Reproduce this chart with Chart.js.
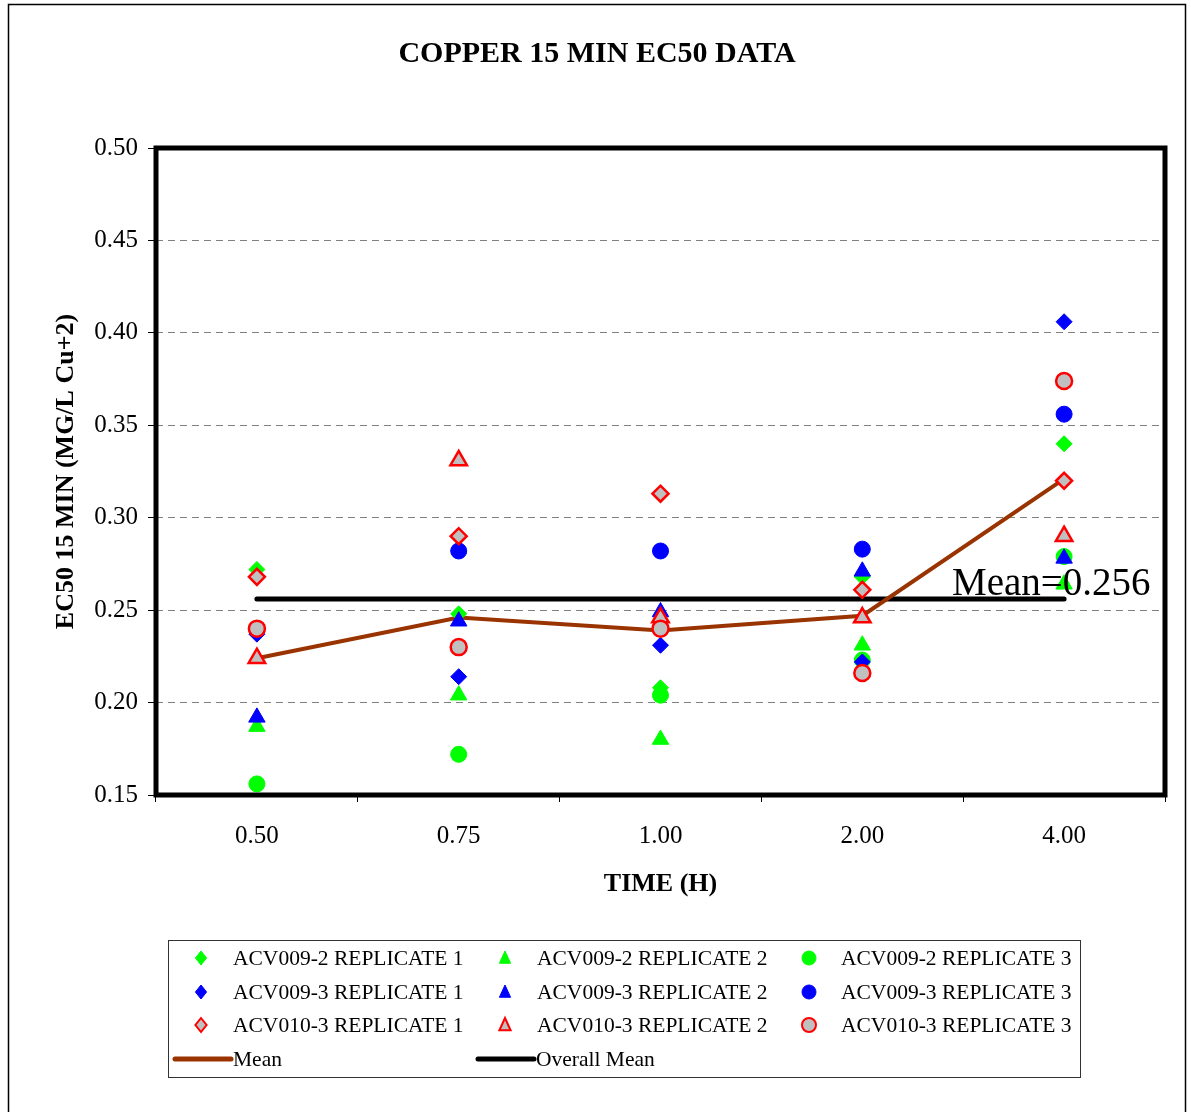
<!DOCTYPE html>
<html>
<head>
<meta charset="utf-8">
<title>Copper 15 min EC50 data</title>
<script src="https://cdn.jsdelivr.net/npm/chart.js@4/dist/chart.umd.min.js"></script>
<style>
  html, body { margin: 0; padding: 0; background: #fff; }
  #wrap { width: 1191px; height: 1112px; }
</style>
</head>
<body>
<div id="wrap"><canvas id="ec50" width="1191" height="1112"></canvas></div>
<script>
// exposure time categories (h)
const times = ['0.50', '0.75', '1.00', '2.00', '4.00'];
const yTicks = [0.15, 0.20, 0.25, 0.30, 0.35, 0.40, 0.45, 0.50];

// EC50 values, mg/L Cu+2
const acv0092Rep1 = [0.272, 0.248, 0.208, 0.268, 0.340];
const acv0092Rep2 = [0.187, 0.204, 0.180, 0.231, 0.264];
const acv0092Rep3 = [0.156, 0.172, 0.204, 0.223, 0.279];
const acv0093Rep1 = [0.237, 0.214, 0.231, 0.222, 0.406];
const acv0093Rep2 = [0.192, 0.244, 0.249, 0.271, 0.278];
const acv0093Rep3 = [0.240, 0.282, 0.282, 0.283, 0.356];
const acv0103Rep1 = [0.268, 0.290, 0.313, 0.261, 0.320];
const acv0103Rep2 = [0.224, 0.331, 0.246, 0.246, 0.290];
const acv0103Rep3 = [0.240, 0.230, 0.240, 0.216, 0.374];
const meanVals = [0.224, 0.246, 0.239, 0.247, 0.321];
const overallMean = [0.256, 0.256, 0.256, 0.256, 0.256];
const overallMeanLabel = 'Mean=0.256';

const FONT = "'Liberation Serif', 'Times New Roman', serif";
const GREEN = '#00ff00', BLUE = '#0000ff', RED = '#ff0000', GREY = '#c0c0c0';
const BROWN = '#993300';

function markerSet(label, data, color, style, hollow, i) {
  return {
    label: label,
    data: data,
    showLine: false,
    pointStyle: style,
    pointRadius: style === 'triangle' ? 9.5 : 8,
    pointBackgroundColor: hollow ? GREY : color,
    pointBorderColor: hollow ? RED : color,
    pointBorderWidth: hollow ? 2.5 : 1,
    borderColor: color,
    backgroundColor: hollow ? GREY : color,
    order: 20 - i
  };
}

const series = [
  ['ACV009-2 REPLICATE 1', acv0092Rep1, GREEN, 'rectRot', false],
  ['ACV009-2 REPLICATE 2', acv0092Rep2, GREEN, 'triangle', false],
  ['ACV009-2 REPLICATE 3', acv0092Rep3, GREEN, 'circle', false],
  ['ACV009-3 REPLICATE 1', acv0093Rep1, BLUE, 'rectRot', false],
  ['ACV009-3 REPLICATE 2', acv0093Rep2, BLUE, 'triangle', false],
  ['ACV009-3 REPLICATE 3', acv0093Rep3, BLUE, 'circle', false],
  ['ACV010-3 REPLICATE 1', acv0103Rep1, RED, 'rectRot', true],
  ['ACV010-3 REPLICATE 2', acv0103Rep2, RED, 'triangle', true],
  ['ACV010-3 REPLICATE 3', acv0103Rep3, RED, 'circle', true]
];

const datasets = series.map((s, i) => markerSet(s[0], s[1], s[2], s[3], s[4], i));
datasets.push({
  label: 'Mean', data: meanVals, borderColor: BROWN, borderWidth: 4,
  pointRadius: 0, borderCapStyle: 'round', order: 100
});
datasets.push({
  label: 'Overall Mean', data: overallMean, borderColor: '#000', borderWidth: 5,
  pointRadius: 0, borderCapStyle: 'round', order: 101
});

// small marker painter for the legend
function drawMarker(ctx, style, x, y, r, fill, stroke, lw) {
  ctx.save();
  ctx.beginPath();
  if (style === 'circle') {
    ctx.arc(x, y, r, 0, Math.PI * 2);
  } else if (style === 'rectRot') {
    ctx.moveTo(x, y - r); ctx.lineTo(x + r * 0.8, y); ctx.lineTo(x, y + r); ctx.lineTo(x - r * 0.8, y);
  } else {
    ctx.moveTo(x, y - r); ctx.lineTo(x + r * 0.8, y + r * 0.75); ctx.lineTo(x - r * 0.8, y + r * 0.75);
  }
  ctx.closePath();
  ctx.fillStyle = fill; ctx.fill();
  ctx.lineWidth = lw; ctx.strokeStyle = stroke; ctx.stroke();
  ctx.restore();
}

const decorations = {
  id: 'decorations',
  beforeDraw(chart) {
    const ctx = chart.ctx;
    ctx.save();
    ctx.fillStyle = '#fff';
    ctx.fillRect(0, 0, chart.width, chart.height);
    ctx.restore();
  },
  afterDatasetsDraw(chart) {
    const ctx = chart.ctx;
    const a = chart.chartArea;
    ctx.save();
    // plot frame
    ctx.lineWidth = 5;
    ctx.strokeStyle = '#000';
    ctx.strokeRect(a.left, a.top, a.right - a.left, a.bottom - a.top);
    // overall mean label
    ctx.fillStyle = '#000';
    ctx.font = '39px ' + FONT;
    ctx.textBaseline = 'alphabetic';
    ctx.textAlign = 'left';
    ctx.fillText(overallMeanLabel, 952, 595);
    ctx.restore();
  },
  afterDraw(chart) {
    const ctx = chart.ctx;
    ctx.save();
    // outer frame
    ctx.lineWidth = 1.5;
    ctx.strokeStyle = '#000';
    ctx.strokeRect(8.5, 4.5, 1177, 1130);
    // title
    ctx.fillStyle = '#000';
    ctx.font = 'bold 30px ' + FONT;
    ctx.textAlign = 'center';
    ctx.textBaseline = 'middle';
    ctx.fillText('COPPER 15 MIN EC50 DATA', 597, 54);

    // legend
    ctx.lineWidth = 1;
    ctx.strokeStyle = '#333';
    ctx.strokeRect(168.5, 940.5, 912, 137);
    ctx.font = '21.5px ' + FONT;
    ctx.textAlign = 'left';
    const colX = [201, 505, 809];
    const rowY = [958, 992, 1025];
    series.forEach((s, i) => {
      const x = colX[i % 3], y = rowY[Math.floor(i / 3)];
      const hollow = s[4];
      drawMarker(ctx, s[3], x, y, 7, hollow ? GREY : s[2], hollow ? RED : s[2], hollow ? 2 : 1);
      ctx.fillStyle = '#000';
      ctx.fillText(s[0], x + 32, y + 1);
    });
    const lineY = 1059;
    [[175, 'Mean', BROWN], [478, 'Overall Mean', '#000']].forEach(l => {
      ctx.beginPath();
      ctx.lineCap = 'round';
      ctx.lineWidth = 5;
      ctx.strokeStyle = l[2];
      ctx.moveTo(l[0], lineY); ctx.lineTo(l[0] + 56, lineY);
      ctx.stroke();
      ctx.fillStyle = '#000';
      ctx.fillText(l[1], l[0] + 58, lineY + 1);
    });
    ctx.restore();
  }
};

new Chart(document.getElementById('ec50'), {
  type: 'line',
  data: { labels: times, datasets: datasets },
  plugins: [decorations],
  options: {
    responsive: false,
    animation: false,
    events: [],
    font: { family: FONT },
    layout: { padding: { left: 0, right: 26, top: 148, bottom: 207 } },
    plugins: {
      legend: { display: false },
      title: { display: false },
      tooltip: { enabled: false }
    },
    scales: {
      x: {
        type: 'category',
        offset: true,
        afterFit: s => { s.height = 110; },
        grid: {
          offset: true,
          drawOnChartArea: false,
          drawTicks: true,
          tickLength: 7,
          color: '#000',
          lineWidth: 1
        },
        border: { display: false },
        ticks: { color: '#000', padding: 19, font: { family: FONT, size: 25 } },
        title: {
          display: true,
          text: 'TIME (H)',
          color: '#000',
          font: { family: FONT, size: 26, weight: 'bold' },
          padding: { top: 0, bottom: 5 }
        }
      },
      y: {
        min: 0.15,
        max: 0.50,
        afterFit: s => { s.width = 156; },
        afterBuildTicks: s => { s.ticks = yTicks.map(v => ({ value: v })); },
        grid: {
          color: '#808080',
          lineWidth: 1,
          tickLength: 8,
          tickColor: '#000',
          tickBorderDash: []
        },
        border: { display: false, dash: [7, 5] },
        ticks: {
          color: '#000',
          padding: 10,
          font: { family: FONT, size: 25 },
          callback: v => Number(v).toFixed(2)
        },
        title: {
          display: true,
          text: 'EC50 15 MIN (MG/L Cu+2)',
          color: '#000',
          font: { family: FONT, size: 26, weight: 'bold' },
          padding: { top: 51, bottom: 0 }
        }
      }
    }
  }
});
</script>
</body>
</html>
